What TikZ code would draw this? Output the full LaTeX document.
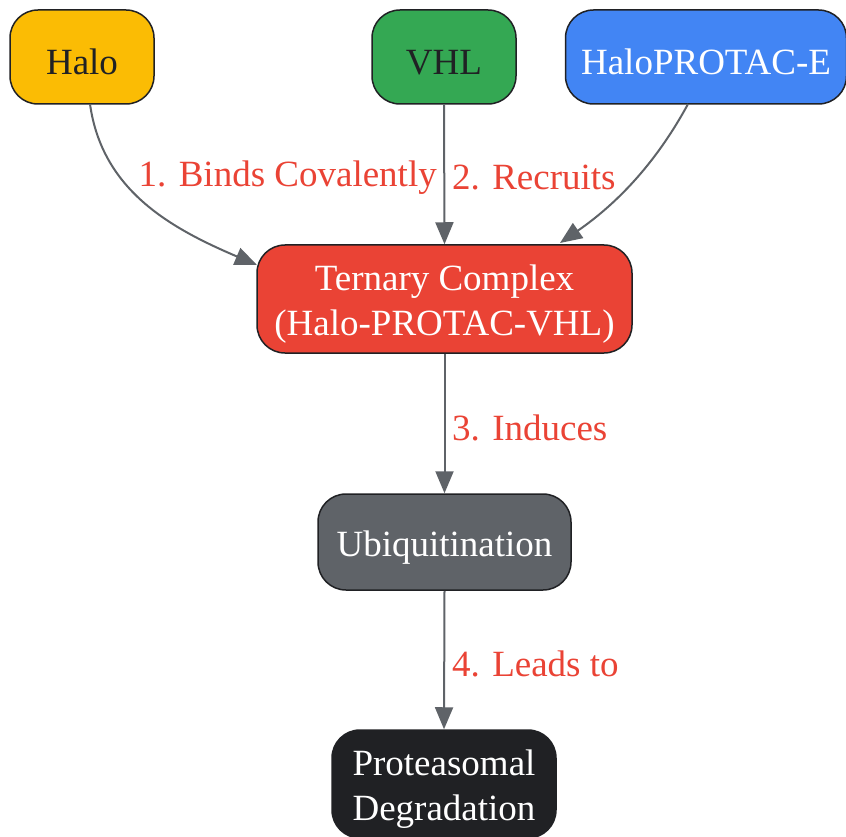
\documentclass[tikz,border=0pt]{standalone}
\usepackage{fontspec}
\setmainfont{Liberation Serif}
\usetikzlibrary{arrows.meta}
\definecolor{cyellow}{HTML}{FBBC04}
\definecolor{cgreen}{HTML}{34A853}
\definecolor{cblue}{HTML}{4285F4}
\definecolor{cred}{HTML}{EA4335}
\definecolor{cgray}{HTML}{5F6368}
\definecolor{cdark}{HTML}{202124}
\newcommand\dnstrut{\rule{0pt}{36pt}}
\tikzset{
  box/.style={draw=cdark, line width=1.5pt, rounded corners=28pt, align=center,
    font=\fontsize{37}{45}\selectfont, inner sep=0pt},
  conn/.style={draw=cgray, line width=2pt, -{Triangle[length=22pt,width=18pt]}},
  lbl/.style={text=cred, font=\fontsize{37}{44}\selectfont, inner sep=0pt, fill=white}
}
\begin{document}
\begin{tikzpicture}[x=1pt,y=-1pt]
\useasboundingbox (0,0) rectangle (846,837);
\node[box, fill=cyellow, text=cdark, minimum width=144pt, minimum height=94pt] (halo) at (82,57) {\dnstrut Halo};
\node[box, fill=cgreen, text=cdark, minimum width=144pt, minimum height=94pt] (vhl) at (444,57) {\dnstrut VHL};
\node[box, fill=cblue, text=white, minimum width=281pt, minimum height=94pt] (hpe) at (706,57) {\dnstrut HaloPROTAC-E};
\node[box, fill=cred, text=white, minimum width=375pt, minimum height=108pt] (tern) at (444.5,299) {\dnstrut Ternary Complex\\(Halo-PROTAC-VHL)};
\node[box, fill=cgray, text=white, minimum width=253pt, minimum height=96pt] (ubi) at (444.5,542) {\dnstrut Ubiquitination};
\node[box, fill=cdark, text=white, minimum width=224pt, minimum height=108pt] (prot) at (444,784) {\dnstrut Proteasomal\\Degradation};

\coordinate (hs) at (90,104);
\coordinate (he) at (257,265);
\coordinate (ps) at (688,104);
\coordinate (pe) at (560,243);
\draw[conn] (hs) .. controls (102,190) and (170,228) .. (he);
\draw[conn] (vhl.south) -- (tern.north);
\draw[conn] (ps) .. controls (655,165) and (615,205) .. (pe);
\draw[conn] (tern.south) -- (ubi.north);
\draw[conn] (ubi.south) -- (prot.north);

\node[lbl, anchor=east] (l1) at (437,178) {1. Binds Covalently};
\node[lbl, anchor=west] (l2) at (452,178) {2. Recruits};
\node[lbl, anchor=west] (l3) at (452,428) {3. Induces};
\node[lbl, anchor=west] (l4) at (452,664) {4. Leads to};
\end{tikzpicture}
\end{document}
